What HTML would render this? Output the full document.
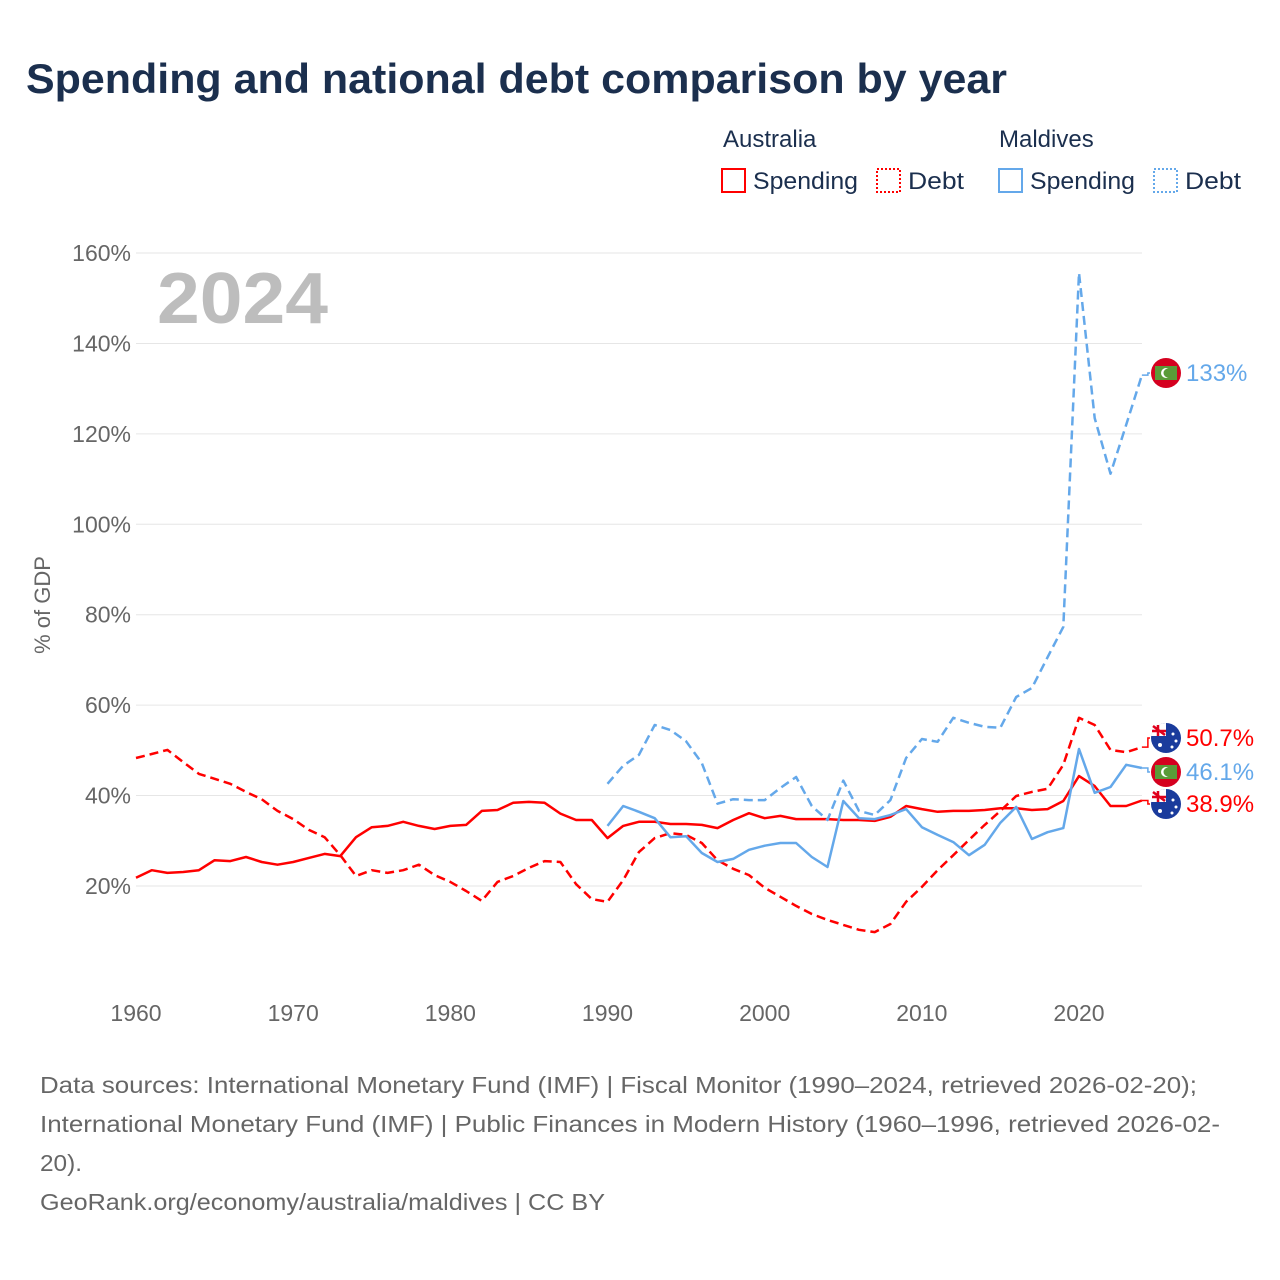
<!DOCTYPE html>
<html><head><meta charset="utf-8"><style>
body{margin:0;background:#fff;font-family:"Liberation Sans",sans-serif}
svg{display:block}
</style></head><body>
<svg id="chart" width="1280" height="1280" viewBox="0 0 1280 1280" xmlns="http://www.w3.org/2000/svg">
<text x="26" y="93" font-size="42" font-weight="bold" fill="#1b2f4e" textLength="981" lengthAdjust="spacingAndGlyphs">Spending and national debt comparison by year</text>
<g font-size="24" fill="#1b2f4e">
<text x="723" y="147">Australia</text>
<text x="999" y="147">Maldives</text>
<g><rect x="722" y="169" width="23" height="23" fill="none" stroke="#f00" stroke-width="2"/><text x="753" y="189" textLength="105" lengthAdjust="spacingAndGlyphs">Spending</text></g>
<g><rect x="877" y="169" width="23" height="23" fill="none" stroke="#f00" stroke-width="2" stroke-dasharray="2,2"/><text x="908" y="189" textLength="56" lengthAdjust="spacingAndGlyphs">Debt</text></g>
<g><rect x="999" y="169" width="23" height="23" fill="none" stroke="#64a8ea" stroke-width="2"/><text x="1030" y="189" textLength="105" lengthAdjust="spacingAndGlyphs">Spending</text></g>
<g><rect x="1154" y="169" width="23" height="23" fill="none" stroke="#64a8ea" stroke-width="2" stroke-dasharray="2,2"/><text x="1185" y="189" textLength="56" lengthAdjust="spacingAndGlyphs">Debt</text></g>
</g>
<g id="grid"></g>
<text x="157" y="323" font-size="72" font-weight="bold" fill="#bdbdbd" textLength="171" lengthAdjust="spacingAndGlyphs">2024</text>
<text transform="translate(50,605) rotate(-90)" text-anchor="middle" font-size="22" fill="#666">% of GDP</text>
<g id="series"></g>
<g id="labels"></g>
<g font-size="23" fill="#666" lengthAdjust="spacingAndGlyphs">
<text x="40" y="1093" textLength="1157" lengthAdjust="spacingAndGlyphs">Data sources: International Monetary Fund (IMF) | Fiscal Monitor (1990–2024, retrieved 2026-02-20);</text>
<text x="40" y="1132" textLength="1180" lengthAdjust="spacingAndGlyphs">International Monetary Fund (IMF) | Public Finances in Modern History (1960–1996, retrieved 2026-02-</text>
<text x="40" y="1171" textLength="42" lengthAdjust="spacingAndGlyphs">20).</text>
<text x="40" y="1210" textLength="565" lengthAdjust="spacingAndGlyphs">GeoRank.org/economy/australia/maldives | CC BY</text>
</g>
</svg>
<script>
const yTicks=[20,40,60,80,100,120,140,160];
const xTicks=[1960,1970,1980,1990,2000,2010,2020];
const auYears0=1960, mvYears0=1990;
const auSpending=[21.8,23.5,22.9,23.1,23.5,25.7,25.5,26.4,25.3,24.7,25.3,26.2,27.1,26.6,30.8,33.0,33.3,34.2,33.3,32.6,33.3,33.5,36.6,36.8,38.4,38.6,38.4,36.0,34.6,34.6,30.6,33.3,34.2,34.2,33.7,33.7,33.5,32.8,34.6,36.1,35.0,35.5,34.8,34.8,34.8,34.6,34.6,34.4,35.3,37.7,37.0,36.4,36.6,36.6,36.8,37.2,37.2,36.8,37.0,38.8,44.3,42.1,37.7,37.7,38.9];
const auDebt=[48.3,49.2,50.1,47.4,44.8,43.7,42.6,40.8,39.2,36.6,34.8,32.4,30.8,26.8,22.2,23.5,22.9,23.5,24.7,22.4,20.9,18.9,16.7,20.9,22.2,24.0,25.5,25.3,20.4,17.1,16.5,21.3,27.5,30.6,31.7,31.3,29.5,25.7,23.8,22.4,19.6,17.6,15.6,13.8,12.5,11.4,10.3,9.8,11.6,16.5,19.8,23.5,26.8,30.2,33.5,36.6,39.9,40.8,41.5,46.8,57.2,55.6,50.1,49.6,50.7];
const mvSpending=[33.3,37.7,36.4,35.0,30.8,31.0,27.3,25.3,26.0,28.0,28.9,29.5,29.5,26.4,24.2,38.8,35.0,34.8,35.7,37.0,33.0,31.3,29.7,26.8,29.1,34.0,37.5,30.4,31.9,32.8,50.3,40.6,41.9,46.8,46.1];
const mvDebt=[42.6,46.6,49.0,55.6,54.5,52.0,47.2,38.2,39.2,39.0,39.0,41.7,44.1,37.7,34.6,43.3,36.6,35.7,39.0,48.3,52.5,51.9,57.2,56.1,55.2,55.0,61.8,63.8,70.6,77.3,155.6,123.5,111.2,122.0,133.0];
const NS="http://www.w3.org/2000/svg";
const X=y=>136+(y-1960)*15.717;
const Y=v=>976.4-v*4.521;
function mk(t,a,p){const e=document.createElementNS(NS,t);for(const k in a)e.setAttribute(k,a[k]);p.appendChild(e);return e;}
const grid=document.getElementById('grid');
yTicks.forEach(v=>{
 const l=mk('line',{x1:136,x2:1142,y1:Y(v),y2:Y(v),stroke:'#e6e6e6','stroke-width':1},grid);
 
 
 const t=mk('text',{x:131,y:Y(v)+8,'text-anchor':'end','font-size':23,fill:'#666'},grid);
 t.textContent=v+'%';
 
 
});
xTicks.forEach(v=>{
 const t=mk('text',{x:X(v),y:1021,'text-anchor':'middle','font-size':23,fill:'#666'},grid);
 t.textContent=v;
 
 
});
const ser=document.getElementById('series');
function line(arr,y0,color,dash,name){
 const pts=arr.map((v,i)=>X(y0+i).toFixed(1)+','+Y(v).toFixed(1)).join(' ');
 const p=mk('polyline',{points:pts,fill:'none',stroke:color,'stroke-width':2.5,'stroke-linejoin':'round'},ser);
 if(dash)p.setAttribute('stroke-dasharray','9,5');
 
 
}
line(auSpending,auYears0,'#ff0000',null,'australia-spending-line');
line(auDebt,auYears0,'#ff0000',true,'australia-debt-line');
line(mvSpending,mvYears0,'#64a8ea',null,'maldives-spending-line');
line(mvDebt,mvYears0,'#64a8ea',true,'maldives-debt-line');
const lab=document.getElementById('labels');
function endLabel(val,ly,color,flag,name){
 const ex=X(2024),ey=Y(val);
 mk('polyline',{points:`${ex},${ey} ${ex+6},${ey} ${ex+6},${ly} 1150,${ly}`,fill:'none',stroke:color,'stroke-width':1.5},lab);
 const g=mk('g',{},lab);
 
 
 if(flag==='au'){
  mk('circle',{cx:1166,cy:ly,r:15,fill:'#1a3b9c'},g);
  mk('path',{d:`M1151,${ly-2} A15,15 0 0 1 1166,${ly-15} L1166,${ly-2} Z`,fill:'#fff'},g);
  mk('path',{d:`M1153,${ly-12} L1165,${ly-3} M1158,${ly-13} L1158,${ly-2} M1152,${ly-7} L1166,${ly-7}`,stroke:'#e0001b','stroke-width':2.5},g);
  mk('circle',{cx:1160,cy:ly+7,r:2,fill:'#fff'},g);
  mk('circle',{cx:1173,cy:ly-4,r:1.5,fill:'#fff'},g);
  mk('circle',{cx:1176,cy:ly+3,r:1.5,fill:'#fff'},g);
  mk('circle',{cx:1172,cy:ly+9,r:1.5,fill:'#fff'},g);
 }else{
  mk('circle',{cx:1166,cy:ly,r:15,fill:'#d5001f'},g);
  mk('rect',{x:1155,y:ly-7,width:22,height:14,fill:'#5a9b38'},g);
  mk('circle',{cx:1166,cy:ly,r:5,fill:'#fff'},g);
  mk('circle',{cx:1168,cy:ly,r:4.5,fill:'#5a9b38'},g);
 }
 const t=mk('text',{x:1186,y:ly+8,'font-size':24,fill:color},lab);
 t.textContent=val+'%';
 
 
}
endLabel(mvDebt[mvDebt.length-1],373,'#64a8ea','mv','maldives-debt');
endLabel(auDebt[auDebt.length-1],738,'#ff0000','au','australia-debt');
endLabel(mvSpending[mvSpending.length-1],772,'#64a8ea','mv','maldives-spending');
endLabel(auSpending[auSpending.length-1],804,'#ff0000','au','australia-spending');
</script>
</body></html>
